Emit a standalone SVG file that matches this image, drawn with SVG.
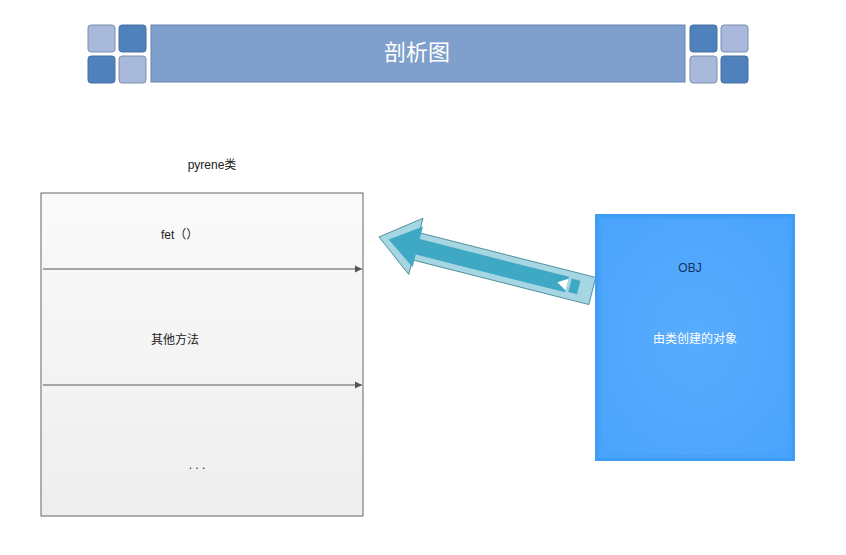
<svg xmlns="http://www.w3.org/2000/svg" width="846" height="555" viewBox="0 0 846 555">
<style>
  text { font-family: "Liberation Sans", "Noto Sans CJK SC", sans-serif; font-size: 12px; fill: #222; }
  .lt { fill: #a9b9dc; stroke: #7b8fb0; stroke-width: 1; }
  .dk { fill: #4f81bd; stroke: #46709f; stroke-width: 1; }
  .sep { stroke: #555; stroke-width: 1; fill: none; marker-end: url(#ah); }
</style>
<defs>
  <marker id="ah" markerWidth="8" markerHeight="8" refX="7" refY="4" orient="auto" markerUnits="userSpaceOnUse">
    <path d="M0,0.5 L7,4 L0,7.5 Z" fill="#555"/>
  </marker>
  <linearGradient id="cls" x1="0" y1="0" x2="0" y2="1">
    <stop offset="0" stop-color="#fafafa"/>
    <stop offset="1" stop-color="#eeeeee"/>
  </linearGradient>
  <radialGradient id="obj" cx="0.5" cy="0.5" r="0.7">
    <stop offset="0" stop-color="#58acfd"/>
    <stop offset="1" stop-color="#4aa3fc"/>
  </radialGradient>
</defs>
<rect width="846" height="555" fill="#ffffff"/>

<g id="header">
  <rect class="lt" x="88" y="25" width="27" height="27" rx="3"/>
  <rect class="dk" x="119" y="25" width="27" height="27" rx="3"/>
  <rect class="dk" x="88" y="56" width="27" height="27" rx="3"/>
  <rect class="lt" x="119" y="56" width="27" height="27" rx="3"/>
  <rect x="151" y="25" width="534" height="57" fill="#7f9fcc" stroke="#6684b3" stroke-width="1"/>
  <text x="417" y="60" text-anchor="middle" style="font-size:22px; fill:#ffffff; font-family:'Noto Sans CJK SC', sans-serif;">剖析图</text>
  <rect class="dk" x="690" y="25" width="27" height="27" rx="3"/>
  <rect class="lt" x="721" y="25" width="27" height="27" rx="3"/>
  <rect class="lt" x="690" y="56" width="27" height="27" rx="3"/>
  <rect class="dk" x="721" y="56" width="27" height="27" rx="3"/>
</g>

<g id="class">
  <text x="212" y="169" text-anchor="middle">pyrene类</text>
  <rect x="41" y="193" width="322" height="323" fill="url(#cls)" stroke="#666" stroke-width="1"/>
  <text x="161" y="239">fet（）</text>
  <text x="175" y="344" text-anchor="middle">其他方法</text>
  <text x="197" y="469" text-anchor="middle">. . .</text>
</g>

<g id="connectors">
  <line class="sep" x1="43" y1="269" x2="362" y2="269"/>
  <line class="sep" x1="43" y1="385" x2="362" y2="385"/>
  <g id="big-arrow" transform="translate(379,237) rotate(14.2)">
    <path d="M0,0 L38,-29 L38,-14 L220,-14 L220,14 L38,14 L38,29 Z" fill="#a7d6e3" stroke="#3f7f94" stroke-width="0.8"/>
    <path d="M10,0 L40,-21 L40,-8 L194,-8 L194,8 L40,8 L40,21 Z" fill="#3fa9c5"/>
    <path d="M184,0 L194,-6 L194,6 Z" fill="#ffffff"/>
    <rect x="197" y="-7" width="9" height="14" fill="#3fa9c5"/>
  </g>
</g>

<g id="obj">
  <rect x="595" y="214" width="200" height="247" fill="url(#obj)"/>
  <rect x="596.5" y="215.5" width="197" height="244" fill="none" stroke="#3d9cf6" stroke-width="3"/>
  <rect x="599.5" y="218.5" width="191" height="238" fill="none" stroke="#459ff8" stroke-width="3" opacity="0.7"/>
  <text x="690" y="272" text-anchor="middle" style="fill:#14325c;">OBJ</text>
  <text x="695" y="343" text-anchor="middle" style="fill:#ffffff;">由类创建的对象</text>
</g>
</svg>
